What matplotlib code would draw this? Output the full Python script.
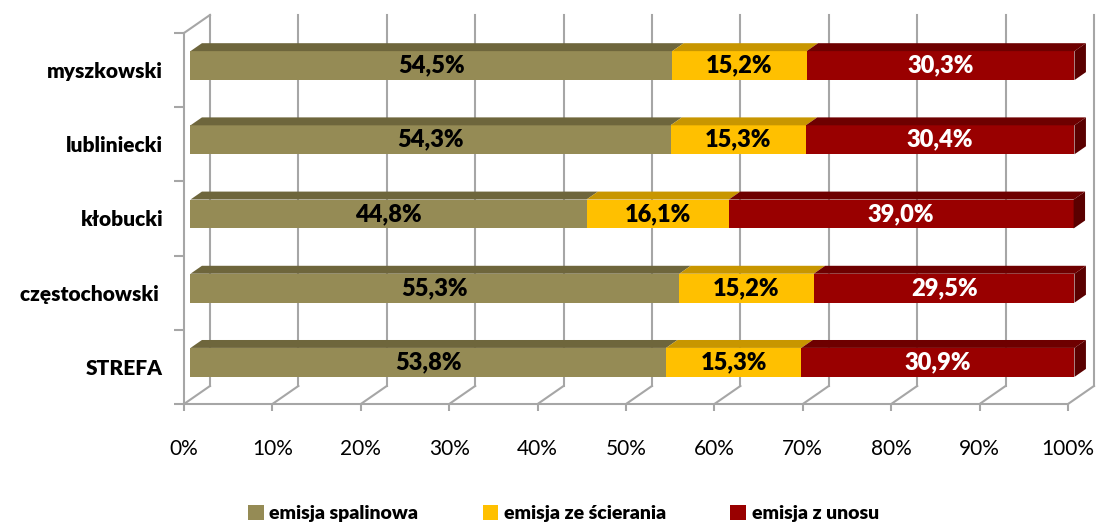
import matplotlib
matplotlib.use("Agg")
import matplotlib.pyplot as plt
from matplotlib.patches import Polygon, Patch

plt.rcParams['font.family'] = ['Lato', 'DejaVu Sans']

categories = ['STREFA', 'częstochowski ', 'kłobucki', 'lubliniecki', 'myszkowski']
spalinowa = [53.8, 55.3, 44.8, 54.3, 54.5]
scierania = [15.3, 15.2, 16.1, 15.3, 15.2]
unosu = [30.9, 29.5, 39.0, 30.4, 30.3]
series_names = ['emisja spalinowa', 'emisja ze ścierania', 'emisja z unosu']
x_ticks = [0, 10, 20, 30, 40, 50, 60, 70, 80, 90, 100]

front = ['#958B55', '#FFC000', '#990000']
top = ['#6E663C', '#C89600', '#6E0000']
side = ['#5E5733', '#B08400', '#5A0000']
text_col = ['black', 'black', 'white']

# depth of the 3D box in data units
DX, DY = 2.94, 0.243
f0, f1 = 0.25, 0.69      # bar depth span (fraction of box depth)
h = 0.39
grid_c = '#A6A6A6'

fig = plt.figure(figsize=(10.96, 5.24), dpi=100)
ax = fig.add_axes([184 / 1096, 120 / 524, 884 / 1096, 371 / 524])
ax.set_xlim(0, 100)
ax.set_ylim(-0.5, 4.5)

# back wall gridlines and floor diagonals
for t in x_ticks:
    ax.plot([t + DX, t + DX], [-0.5 + DY, 4.5 + DY], color=grid_c, lw=1.5, clip_on=False, zorder=1)
    ax.plot([t, t + DX], [-0.5, -0.5 + DY], color=grid_c, lw=1.5, clip_on=False, zorder=1)
ax.plot([0, DX], [4.5, 4.5 + DY], color=grid_c, lw=1.5, clip_on=False, zorder=1)

series = [spalinowa, scierania, unosu]
for i, cat in enumerate(categories):
    left = 0
    for s in range(3):
        w = series[s][i]
        x0 = left + f0 * DX
        yb = i - h / 2 + f0 * DY
        yt = yb + h
        ddx = (f1 - f0) * DX
        ddy = (f1 - f0) * DY
        ax.add_patch(Polygon([(x0, yb), (x0 + w, yb), (x0 + w, yt), (x0, yt)],
                             closed=True, facecolor=front[s], edgecolor='none', zorder=3, clip_on=False))
        ax.add_patch(Polygon([(x0, yt), (x0 + w, yt), (x0 + w + ddx, yt + ddy), (x0 + ddx, yt + ddy)],
                             closed=True, facecolor=top[s], edgecolor='none', zorder=3, clip_on=False))
        if s == 2:
            ax.add_patch(Polygon([(x0 + w, yb), (x0 + w + ddx, yb + ddy), (x0 + w + ddx, yt + ddy), (x0 + w, yt)],
                                 closed=True, facecolor=side[s], edgecolor='none', zorder=3, clip_on=False))
        ax.text(x0 + w / 2, (yb + yt) / 2, f'{w:.1f}%'.replace('.', ','), ha='center', va='center',
                fontsize=17, fontweight='heavy', color=text_col[s], zorder=4)
        left += w

for sp in ['top', 'right']:
    ax.spines[sp].set_visible(False)
for sp in ['left', 'bottom']:
    ax.spines[sp].set_color(grid_c)
    ax.spines[sp].set_linewidth(1.5)

ax.set_xticks(x_ticks)
ax.set_xticklabels([f'{t}%' for t in x_ticks], fontsize=15)
ax.tick_params(axis='x', length=5, color=grid_c, width=1.5, pad=20)
ax.set_yticks(range(len(categories)))
ax.set_yticklabels(categories, fontsize=15, fontweight='heavy')
ax.tick_params(axis='y', length=0, pad=15)
ax.set_yticks([k - 0.5 for k in range(len(categories) + 1)], minor=True)
ax.tick_params(axis='y', which='minor', length=7, color=grid_c, width=1.5)

handles = [Patch(facecolor=front[s], edgecolor='none') for s in range(3)]
fig.legend(handles, series_names, loc='lower center', ncol=3, frameon=False,
           bbox_to_anchor=(0.514, -0.03), handlelength=0.8, handleheight=0.8,
           handletextpad=0.3, columnspacing=3.3, prop={'size': 14, 'weight': 'heavy'})

fig.savefig('out.png', dpi=100)
